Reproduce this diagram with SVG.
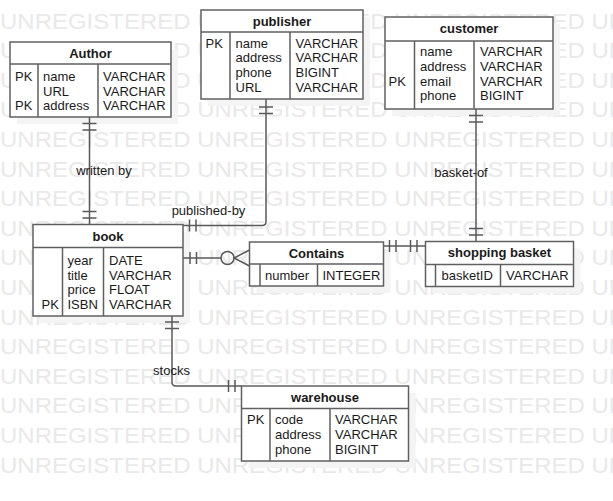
<svg xmlns="http://www.w3.org/2000/svg" width="613" height="501" viewBox="0 0 613 501">
<style>
.wm{font-family:"Liberation Sans",Arial,sans-serif;font-size:22px;fill:#e9e9e9}
.sh{fill:#f4f4f4}
.box{fill:#fff;stroke:#606060;stroke-width:1.5}
.ln{stroke:#606060;stroke-width:1.5;fill:none}
.t{font-family:"Liberation Sans",Arial,sans-serif;font-size:13px;fill:#1a1a1a}
.h{font-weight:bold;text-anchor:middle}
.c{stroke:#595959;stroke-width:1.5;fill:none}
.lb{font-family:"Liberation Sans",Arial,sans-serif;font-size:13px;fill:#1a1a1a;text-anchor:middle}
</style>
<rect width="613" height="501" fill="#fff"/>
<g id="watermark">
<text class="wm" x="0" y="28.6" textLength="782" lengthAdjust="spacingAndGlyphs">UNREGISTERED UNREGISTERED UNREGISTERED UNREGISTERED</text>
<text class="wm" x="0" y="58.2" textLength="782" lengthAdjust="spacingAndGlyphs">UNREGISTERED UNREGISTERED UNREGISTERED UNREGISTERED</text>
<text class="wm" x="0" y="87.8" textLength="782" lengthAdjust="spacingAndGlyphs">UNREGISTERED UNREGISTERED UNREGISTERED UNREGISTERED</text>
<text class="wm" x="0" y="117.4" textLength="782" lengthAdjust="spacingAndGlyphs">UNREGISTERED UNREGISTERED UNREGISTERED UNREGISTERED</text>
<text class="wm" x="0" y="147" textLength="782" lengthAdjust="spacingAndGlyphs">UNREGISTERED UNREGISTERED UNREGISTERED UNREGISTERED</text>
<text class="wm" x="0" y="176.6" textLength="782" lengthAdjust="spacingAndGlyphs">UNREGISTERED UNREGISTERED UNREGISTERED UNREGISTERED</text>
<text class="wm" x="0" y="206.2" textLength="782" lengthAdjust="spacingAndGlyphs">UNREGISTERED UNREGISTERED UNREGISTERED UNREGISTERED</text>
<text class="wm" x="0" y="235.8" textLength="782" lengthAdjust="spacingAndGlyphs">UNREGISTERED UNREGISTERED UNREGISTERED UNREGISTERED</text>
<text class="wm" x="0" y="265.4" textLength="782" lengthAdjust="spacingAndGlyphs">UNREGISTERED UNREGISTERED UNREGISTERED UNREGISTERED</text>
<text class="wm" x="0" y="295" textLength="782" lengthAdjust="spacingAndGlyphs">UNREGISTERED UNREGISTERED UNREGISTERED UNREGISTERED</text>
<text class="wm" x="0" y="324.6" textLength="782" lengthAdjust="spacingAndGlyphs">UNREGISTERED UNREGISTERED UNREGISTERED UNREGISTERED</text>
<text class="wm" x="0" y="354.2" textLength="782" lengthAdjust="spacingAndGlyphs">UNREGISTERED UNREGISTERED UNREGISTERED UNREGISTERED</text>
<text class="wm" x="0" y="383.8" textLength="782" lengthAdjust="spacingAndGlyphs">UNREGISTERED UNREGISTERED UNREGISTERED UNREGISTERED</text>
<text class="wm" x="0" y="413.4" textLength="782" lengthAdjust="spacingAndGlyphs">UNREGISTERED UNREGISTERED UNREGISTERED UNREGISTERED</text>
<text class="wm" x="0" y="443" textLength="782" lengthAdjust="spacingAndGlyphs">UNREGISTERED UNREGISTERED UNREGISTERED UNREGISTERED</text>
<text class="wm" x="0" y="472.6" textLength="782" lengthAdjust="spacingAndGlyphs">UNREGISTERED UNREGISTERED UNREGISTERED UNREGISTERED</text>
</g>
<g id="shadows">
<rect class="sh" x="17" y="49" width="161" height="75"/>
<rect class="sh" x="208" y="17" width="162" height="89"/>
<rect class="sh" x="392" y="24" width="168" height="92"/>
<rect class="sh" x="40" y="231.5" width="150" height="91.5"/>
<rect class="sh" x="256.5" y="249" width="134" height="44"/>
<rect class="sh" x="432.5" y="248.5" width="148" height="45"/>
<rect class="sh" x="248.5" y="393" width="167" height="75"/>
</g>
<g id="connectors">
<path class="c" d="M89.5 117V224.5M82.5 123.5H96.5M82.5 130H96.5M82.5 211.5H96.5M82.5 218H96.5"/>
<path class="c" d="M266 99V221.5Q266 225.5 262 225.5H183M259 107H273M259 113.5H273M189.5 219.5V231.5M196 219.5V231.5"/>
<path class="c" d="M183 258H221M190 252V264M196.5 252V264M249.5 250L234 258L249.5 266"/>
<circle class="c" cx="227.5" cy="258" r="6.5"/>
<path class="c" d="M383.5 246H425.5M389.5 240V252M396 240V252M410.5 240V252M417 240V252"/>
<path class="c" d="M476 109V241.5M469 115.5H483M469 122H483M469 228.5H483M469 235H483"/>
<path class="c" d="M172 316V382Q172 386 176 386H241.5M165 322H179M165 328.5H179M228.5 380V392M235 380V392"/>
<text class="lb" x="104" y="174.5">written by</text>
<text class="lb" x="208.5" y="214.5">published-by</text>
<text class="lb" x="461" y="177">basket-of</text>
<text class="lb" x="171.5" y="375">stocks</text>
</g>
<g id="author">
<rect class="box" x="10" y="42" width="161" height="75"/>
<path class="ln" d="M10 64H171M38 64V117M98 64V117"/>
<text class="t h" x="90.5" y="57.5">Author</text>
<text class="t" x="15" y="81">PK</text><text class="t" x="43" y="81">name</text><text class="t" x="103" y="81">VARCHAR</text>
<text class="t" x="43" y="95.5">URL</text><text class="t" x="103" y="95.5">VARCHAR</text>
<text class="t" x="15" y="110">PK</text><text class="t" x="43" y="110">address</text><text class="t" x="103" y="110">VARCHAR</text>
</g>
<g id="publisher">
<rect class="box" x="201" y="10" width="162" height="89"/>
<path class="ln" d="M201 32H363M230 32V99M290 32V99"/>
<text class="t h" x="282" y="26">publisher</text>
<text class="t" x="205.5" y="47.5">PK</text><text class="t" x="235.5" y="47.5">name</text><text class="t" x="295.5" y="47.5">VARCHAR</text>
<text class="t" x="235.5" y="62">address</text><text class="t" x="295.5" y="62">VARCHAR</text>
<text class="t" x="235.5" y="77">phone</text><text class="t" x="295.5" y="77">BIGINT</text>
<text class="t" x="235.5" y="91.5">URL</text><text class="t" x="295.5" y="91.5">VARCHAR</text>
</g>
<g id="customer">
<rect class="box" x="385" y="17" width="168" height="92"/>
<path class="ln" d="M385 41H553M414.5 41V109M474 41V109"/>
<text class="t h" x="469" y="33">customer</text>
<text class="t" x="420" y="56">name</text><text class="t" x="480" y="56">VARCHAR</text>
<text class="t" x="420" y="71">address</text><text class="t" x="480" y="71">VARCHAR</text>
<text class="t" x="388.5" y="85.5">PK</text><text class="t" x="420" y="85.5">email</text><text class="t" x="480" y="85.5">VARCHAR</text>
<text class="t" x="420" y="100">phone</text><text class="t" x="480" y="100">BIGINT</text>
</g>
<g id="book">
<rect class="box" x="33" y="224.5" width="150" height="91.5"/>
<path class="ln" d="M33 247.5H183M62.5 247.5V316M103.5 247.5V316"/>
<text class="t h" x="108" y="241">book</text>
<text class="t" x="67.5" y="265">year</text><text class="t" x="109" y="265">DATE</text>
<text class="t" x="67.5" y="279.5">title</text><text class="t" x="109" y="279.5">VARCHAR</text>
<text class="t" x="67.5" y="294">price</text><text class="t" x="109" y="294">FLOAT</text>
<text class="t" x="41.5" y="309">PK</text><text class="t" x="67.5" y="309">ISBN</text><text class="t" x="109" y="309">VARCHAR</text>
</g>
<g id="contains">
<rect class="box" x="249.5" y="242" width="134" height="44"/>
<path class="ln" d="M249.5 264H383.5M260 264V286M317.5 264V286"/>
<text class="t h" x="316.5" y="257.5">Contains</text>
<text class="t" x="265" y="280">number</text><text class="t" x="322.5" y="280">INTEGER</text>
</g>
<g id="shopping-basket">
<rect class="box" x="425.5" y="241.5" width="148" height="45"/>
<path class="ln" d="M425.5 264.5H573.5M435.5 264.5V286.5M500.5 264.5V286.5"/>
<text class="t h" x="499.5" y="257">shopping basket</text>
<text class="t" x="441.5" y="280">basketID</text><text class="t" x="506" y="280">VARCHAR</text>
</g>
<g id="warehouse">
<rect class="box" x="241.5" y="386" width="167" height="75"/>
<path class="ln" d="M241.5 408.5H408.5M270 408.5V461M330 408.5V461"/>
<text class="t h" x="325" y="401.5">warehouse</text>
<text class="t" x="247" y="424">PK</text><text class="t" x="275" y="424">code</text><text class="t" x="335" y="424">VARCHAR</text>
<text class="t" x="275" y="439">address</text><text class="t" x="335" y="439">VARCHAR</text>
<text class="t" x="275" y="453.5">phone</text><text class="t" x="335" y="453.5">BIGINT</text>
</g>
</svg>
